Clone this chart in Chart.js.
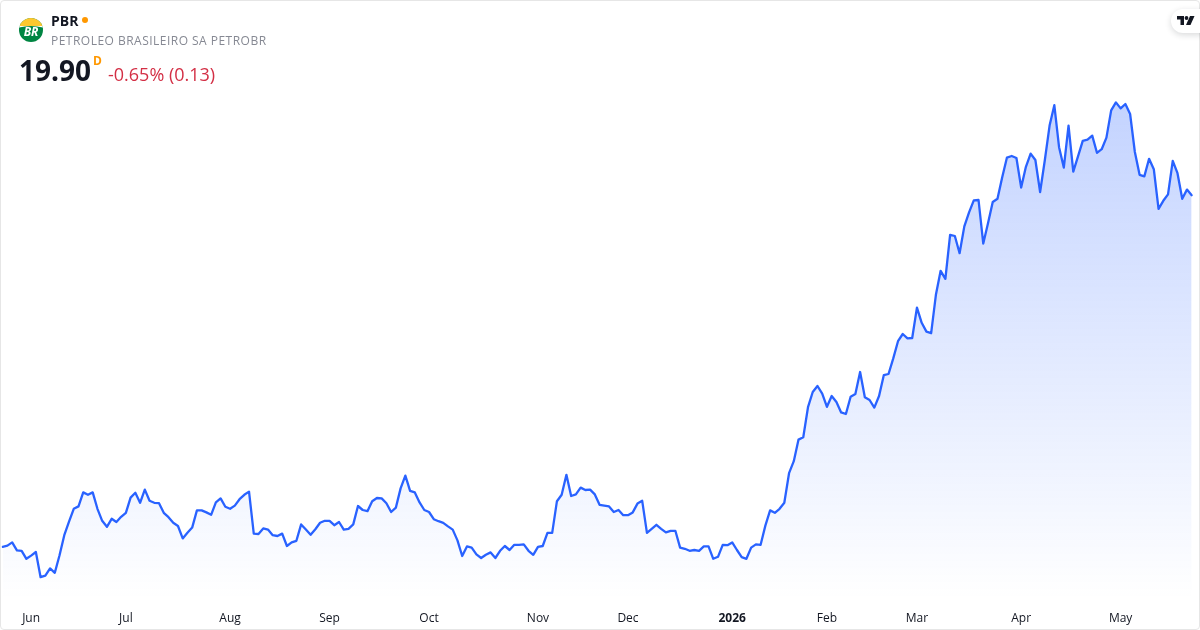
<!DOCTYPE html>
<html>
<head>
<meta charset="utf-8">
<script src="https://cdn.jsdelivr.net/npm/chart.js@4"></script>
<style>
  html, body { margin: 0; padding: 0; background: #fff; }
  body { width: 1200px; height: 630px; overflow: hidden; position: relative; font-family: "Open Sans", sans-serif; }
  #card { position: absolute; left: 0; top: 0; width: 1198px; height: 628px; border: 1px solid #e6e6e6; border-radius: 4px; }
  #myChart { position: absolute; left: 0; top: 0; }
  .txt { position: absolute; white-space: nowrap; line-height: 1; }
  #symbol { left: 51px; top: 14px; font-size: 14px; font-weight: 700; color: #131722; }
  #dot { position: absolute; left: 82px; top: 17px; width: 6px; height: 6px; border-radius: 50%; background: #ff9800; }
  #name { left: 51px; top: 35px; font-size: 12px; letter-spacing: 0.48px; color: #868993; }
  #price { left: 19px; top: 56px; font-size: 28px; font-weight: 700; color: #131722; }
  #interval { left: 93px; top: 55px; font-size: 12px; font-weight: 700; color: #ff9800; }
  #change { left: 108px; top: 65px; font-size: 18px; color: #d32f45; }
  #logo { position: absolute; left: 19px; top: 18px; }
  #tv { position: absolute; left: 1171px; top: 9px; width: 40px; height: 24px; border-radius: 12px; background: #fff; box-shadow: 0 2px 6px rgba(19,23,34,.16); }
  #tv svg { position: absolute; left: 6px; top: 7px; }
</style>
</head>
<body>
<canvas id="myChart" width="1200" height="630"></canvas>
<div id="card"></div>
<svg id="logo" width="24" height="24" viewBox="0 0 24 24">
  <defs><clipPath id="c"><circle cx="12" cy="12" r="12"/></clipPath></defs>
  <g clip-path="url(#c)">
    <rect width="24" height="24" fill="#008542"/>
    <rect width="24" height="8" fill="#fdc82f"/>
    <path d="M0 8 H24 V9.5 Q12 6.5 0 9.5 Z" fill="#fff"/>
  </g>
  <text x="12" y="18" text-anchor="middle" font-family="Open Sans" font-size="12" font-weight="700" font-style="italic" fill="#fff">BR</text>
</svg>
<div class="txt" id="symbol">PBR</div>
<div id="dot"></div>
<div class="txt" id="name">PETROLEO BRASILEIRO SA PETROBR</div>
<div class="txt" id="price">19.90</div>
<div class="txt" id="interval">D</div>
<div class="txt" id="change">-0.65% (0.13)</div>
<div id="tv">
  <svg width="18" height="10" viewBox="0 0 18 10" fill="#131722">
    <path d="M0 0 H7 V9 H3.5 V3.5 H0 Z"/>
    <circle cx="9.5" cy="2" r="1.9"/>
    <path d="M13 0 H17.5 L13.5 9 H9 Z"/>
  </svg>
</div>
<script>
const closes = [
  11.11, 11.14, 11.22, 11.02, 11.01, 10.81, 10.89, 10.98, 10.35, 10.39,
  10.57, 10.46, 10.90, 11.40, 11.74, 12.06, 12.12, 12.47, 12.41, 12.47,
  12.06, 11.76, 11.61, 11.81, 11.73, 11.86, 11.96, 12.34, 12.46, 12.21,
  12.54, 12.26, 12.21, 12.20, 11.96, 11.85, 11.71, 11.63, 11.32, 11.46,
  11.59, 12.02, 12.02, 11.97, 11.91, 12.22, 12.32, 12.11, 12.06, 12.14,
  12.30, 12.41, 12.49, 11.44, 11.43, 11.57, 11.54, 11.40, 11.38, 11.44,
  11.13, 11.22, 11.26, 11.67, 11.54, 11.41, 11.55, 11.71, 11.76, 11.76,
  11.65, 11.73, 11.54, 11.56, 11.67, 12.13, 12.03, 12.00, 12.25, 12.33,
  12.32, 12.20, 11.98, 12.09, 12.57, 12.89, 12.51, 12.47, 12.22, 12.03,
  11.98, 11.80, 11.75, 11.71, 11.62, 11.54, 11.27, 10.88, 11.12, 11.09,
  10.92, 10.83, 10.91, 10.97, 10.83, 11.01, 11.13, 11.03, 11.16, 11.16,
  11.17, 11.01, 10.91, 11.11, 11.13, 11.46, 11.46, 12.25, 12.41, 12.91,
  12.38, 12.42, 12.59, 12.53, 12.54, 12.42, 12.16, 12.14, 12.12, 11.98,
  12.03, 11.90, 11.90, 11.97, 12.19, 12.26, 11.46, 11.56, 11.66, 11.56,
  11.47, 11.51, 11.51, 11.09, 11.06, 11.01, 11.03, 11.01, 11.12, 11.12,
  10.81, 10.86, 11.16, 11.15, 11.22, 11.03, 10.85, 10.81, 11.09, 11.17,
  11.16, 11.64, 12.02, 11.96, 12.06, 12.21, 12.95, 13.25, 13.79, 13.85,
  14.60, 14.98, 15.13, 14.94, 14.61, 14.88, 14.73, 14.47, 14.43, 14.86,
  14.93, 15.48, 14.85, 14.78, 14.59, 14.88, 15.40, 15.43, 15.82, 16.25,
  16.43, 16.32, 16.33, 17.09, 16.71, 16.49, 16.45, 17.41, 18.01, 17.81,
  18.91, 18.88, 18.45, 19.12, 19.47, 19.77, 19.78, 18.69, 19.20, 19.73,
  19.81, 20.35, 20.84, 20.88, 20.83, 20.09, 20.61, 20.94, 20.78, 19.98,
  20.78, 21.64, 22.15, 21.10, 20.59, 21.64, 20.49, 20.87, 21.26, 21.29,
  21.39, 20.96, 21.05, 21.34, 22.02, 22.22, 22.07, 22.18, 21.93, 20.98,
  20.41, 20.37, 20.81, 20.55, 19.56, 19.76, 19.92, 20.76, 20.45, 19.81,
  20.04, 19.90
]
const tickLabels = ["Jun", "Jul", "Aug", "Sep", "Oct", "Nov", "Dec", "2026", "Feb", "Mar", "Apr", "May"]
const tickSessions = [6, 26, 48, 69, 90, 113, 132, 154, 174, 193, 215, 236]
const sessions = closes.map((c, i) => i)

function fillGradient(context) {
  const area = context.chart.chartArea
  if (!area) return 'transparent'
  const g = context.chart.ctx.createLinearGradient(0, 100, 0, area.bottom)
  g.addColorStop(0, 'rgba(41, 98, 255, 0.28)')
  g.addColorStop(1, 'rgba(41, 98, 255, 0)')
  return g
}

new Chart(document.getElementById('myChart'), {
  type: 'line',
  data: {
    labels: sessions,
    datasets: [{
      data: closes,
      borderColor: '#2962ff',
      borderWidth: 2.3,
      borderJoinStyle: 'round',
      borderCapStyle: 'round',
      backgroundColor: fillGradient,
      fill: 'start',
      pointRadius: 0,
      tension: 0
    }]
  },
  options: {
    responsive: false,
    animation: false,
    layout: { padding: { left: 2.7, right: 8.3, top: 0, bottom: 0 } },
    plugins: { legend: { display: false }, tooltip: { enabled: false } },
    scales: {
      x: {
        grid: { display: false },
        border: { display: false },
        afterFit: (scale) => { scale.height = 30 },
        ticks: {
          autoSkip: false,
          maxRotation: 0,
          padding: 3,
          color: '#131722',
          font: (ctx) => ({
            family: 'Open Sans',
            size: 12,
            weight: ctx.tick && ctx.tick.label === '2026' ? 'bold' : 'normal'
          }),
          callback: (value, index) => {
            const at = tickSessions.indexOf(index)
            return at < 0 ? null : tickLabels[at]
          }
        }
      },
      y: { display: false, min: 9.78, max: 24.78 }
    }
  }
})
</script>
</body>
</html>
